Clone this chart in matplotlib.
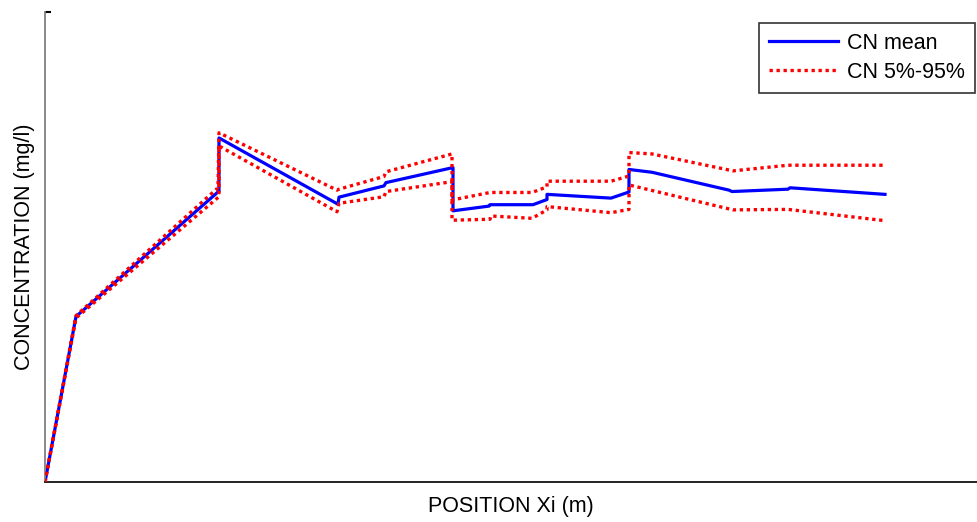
import matplotlib
matplotlib.use("Agg")
import matplotlib.pyplot as plt

# Position (arbitrary units) and concentration (arbitrary units, 0-100)
x_mean = [0.0, 3.1, 17.4, 17.4, 29.3, 29.4, 33.9, 34.1, 40.8, 40.8, 44.4, 44.5,
          48.8, 50.2, 50.2, 56.6, 58.4, 58.4, 60.7, 68.4, 68.7, 74.3, 74.5, 84.0]
y_mean = [0.0, 35.2, 61.9, 73.2, 59.1, 60.6, 63.0, 63.7, 66.9, 57.7, 58.7, 59.0,
          59.0, 60.1, 61.2, 60.4, 61.7, 66.5, 65.9, 62.1, 61.8, 62.3, 62.6, 61.2]

x_upper = [0.0, 3.1, 17.3, 17.4, 29.2, 29.4, 33.9, 34.1, 40.7, 40.7, 44.5, 48.7,
           50.2, 50.2, 56.6, 58.4, 58.4, 60.7, 68.8, 74.3, 84.0]
y_upper = [0.0, 35.4, 62.6, 74.3, 62.1, 62.3, 65.0, 66.0, 69.8, 60.0, 61.6, 61.6,
           62.8, 64.0, 64.0, 65.1, 70.1, 69.8, 66.2, 67.4, 67.4]

x_lower = [0.0, 3.1, 17.4, 17.4, 29.2, 29.4, 33.9, 34.1, 40.7, 40.7, 44.5, 44.6,
           48.7, 50.2, 50.2, 56.6, 58.4, 58.4, 68.8, 74.3, 84.0]
y_lower = [0.0, 34.9, 60.7, 71.5, 57.5, 59.3, 60.7, 61.8, 63.9, 55.7, 55.9, 56.6,
           56.1, 57.9, 58.6, 57.3, 58.0, 63.2, 57.9, 58.0, 55.6]

labels = ["CN mean", "CN 5%-95%"]

plt.rcParams['font.family'] = ['Liberation Sans', 'DejaVu Sans']

W, H = 977, 522
fig = plt.figure(figsize=(W / 100, H / 100), dpi=100)
ax = fig.add_axes([45 / W, 40 / H, 932 / W, 470 / H])

ax.plot(x_mean, y_mean, color='#0000ff', lw=2.3, label=labels[0], zorder=2)
ax.plot(x_upper, y_upper, color='#ff0000', lw=2.4, ls=(0, (1, 1.1)),
        label=labels[1], zorder=3)
ax.plot(x_lower, y_lower, color='#ff0000', lw=2.4, ls=(0, (1, 1.1)), zorder=3)

ax.set_xlim(0, 93.2)
ax.set_ylim(0, 100)

for s in ['top', 'right']:
    ax.spines[s].set_visible(False)
ax.spines['left'].set_color('#808080')
ax.spines['left'].set_linewidth(1.3)
ax.spines['bottom'].set_color('#111111')
ax.spines['bottom'].set_linewidth(1.3)

ax.set_xticks([])
ax.set_yticks([100])
ax.set_yticklabels([])
ax.tick_params(axis='y', direction='in', length=4, width=1.5, color='black')

ax.set_xlabel('POSITION Xi (m)', fontsize=15.5, labelpad=10)
ax.set_ylabel('CONCENTRATION (mg/l)', fontsize=15.5, labelpad=4.0)

leg = ax.legend(loc='upper right', bbox_to_anchor=(975 / W, 1 - 23 / H),
                bbox_transform=fig.transFigure, fontsize=15.5, frameon=True,
                fancybox=False, shadow=False, borderaxespad=0, borderpad=0.45,
                handlelength=3.2, handletextpad=0.45, labelspacing=0.38)
leg.get_frame().set_edgecolor('black')
leg.get_frame().set_linewidth(1.2)

fig.savefig('out.png', dpi=100)
